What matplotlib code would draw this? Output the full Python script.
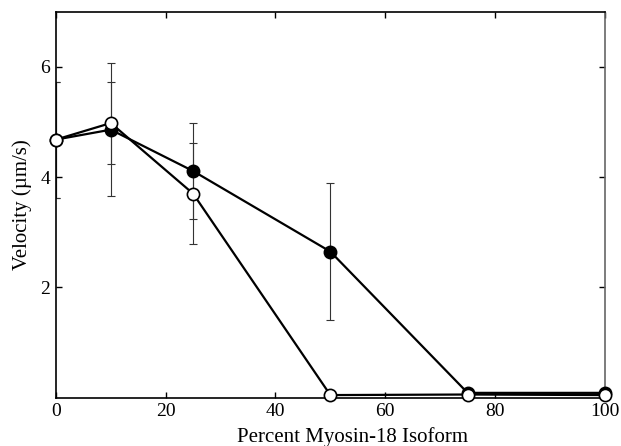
import matplotlib
matplotlib.use("Agg")
import matplotlib.pyplot as plt

# ------------------------------------------------------------
# DATA
# ------------------------------------------------------------
percent = [0, 10, 25, 50, 75, 100]

filled_vel = [4.68, 4.86, 4.11, 2.65, 0.09, 0.09]
filled_err = [1.05, 1.21, 0.87, 1.24, 0.0, 0.0]

open_vel = [4.68, 4.98, 3.70, 0.05, 0.06, 0.05]
open_err = [1.05, 0.75, 0.91, 0.0, 0.0, 0.0]

x_ticks = [0, 20, 40, 60, 80, 100]
y_ticks = [2, 4, 6]

# ------------------------------------------------------------
# PLOT
# ------------------------------------------------------------
plt.rcParams["font.family"] = ["Liberation Serif", "DejaVu Serif"]

fig = plt.figure(figsize=(6.21, 4.46), dpi=100)
ax = fig.add_axes([0.090, 0.108, 0.884, 0.866])

err_style = dict(fmt="none", ecolor="#333333", elinewidth=0.8,
                 capsize=3.2, capthick=0.8, zorder=1)
ax.errorbar(percent, filled_vel, yerr=filled_err, **err_style)
ax.errorbar(percent, open_vel, yerr=open_err, **err_style)

ax.plot(percent, filled_vel, color="black", lw=1.6, marker="o",
        markersize=8.8, markerfacecolor="black", markeredgecolor="black",
        markeredgewidth=1.2, zorder=3, clip_on=False)
ax.plot(percent, open_vel, color="black", lw=1.6, marker="o",
        markersize=8.8, markerfacecolor="white", markeredgecolor="black",
        markeredgewidth=1.2, zorder=4, clip_on=False)

ax.set_xlim(0, 100)
ax.set_ylim(0, 7)
ax.set_xticks(x_ticks)
ax.set_yticks(y_ticks)
ax.tick_params(direction="in", top=True, right=True, length=4,
               width=1.0, labelsize=14, pad=4)
for side in ["left", "bottom", "top"]:
    ax.spines[side].set_linewidth(1.2)
ax.spines["right"].set_linewidth(1.2)
ax.spines["right"].set_color("#666666")

ax.set_xlabel("Percent Myosin-18 Isoform", fontsize=15, labelpad=4)
ax.xaxis.set_label_coords(0.54, -0.075)
ax.set_ylabel("Velocity (\u00b5m/s)", fontsize=15, labelpad=6)

fig.savefig("out.png", dpi=100)
